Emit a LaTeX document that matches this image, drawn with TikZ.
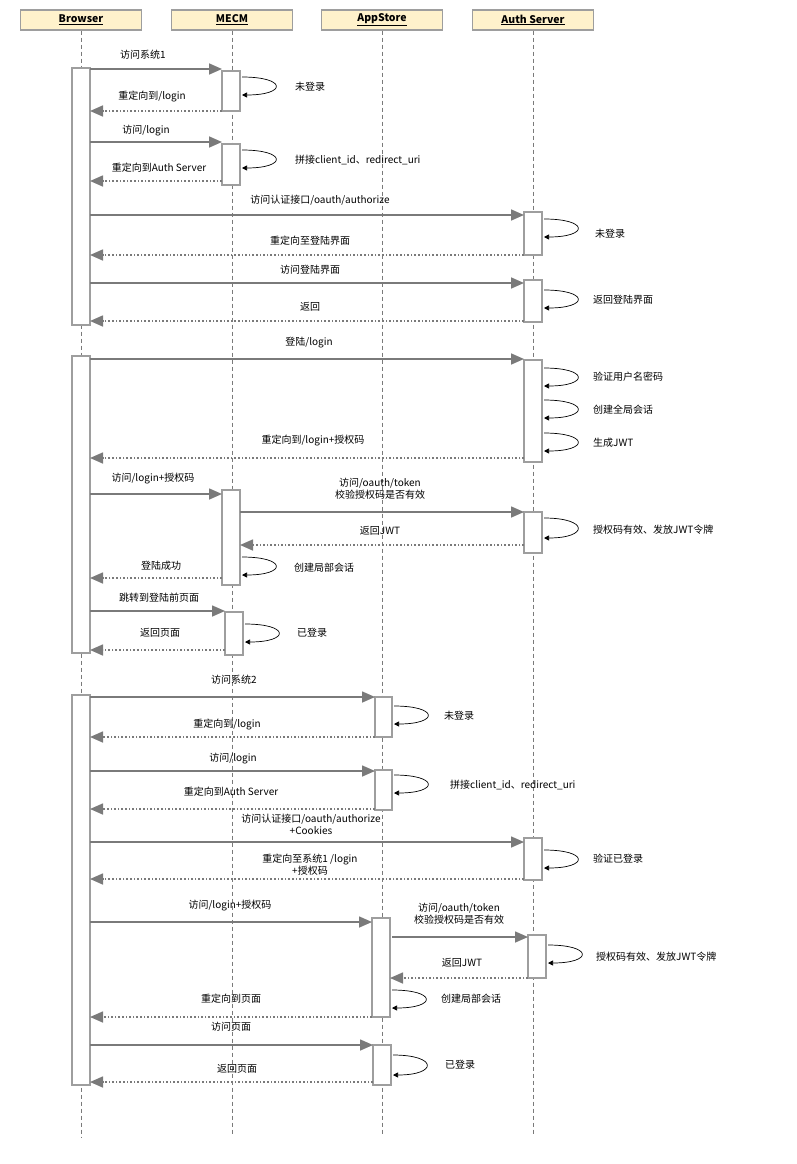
\documentclass[tikz,border=0pt]{standalone}
\usepackage{fontspec}
\setmainfont{Noto Sans CJK SC}
\usetikzlibrary{arrows.meta}
\definecolor{hdr}{HTML}{FFF2CC}
\definecolor{ln}{HTML}{7A7A7A}
\definecolor{bx}{HTML}{9E9E9E}
\tikzset{
  hd/.style={draw=bx,line width=1.4pt,fill=hdr,minimum width=121pt,minimum height=20pt,inner sep=0pt,font=\fontsize{10.5}{12}\selectfont\bfseries},
  life/.style={draw=ln,dashed,line width=0.9pt,dash pattern=on 4pt off 3pt},
  act/.style={draw=bx,line width=1.6pt,fill=white},
  req/.style={draw=ln,line width=1.6pt,-{Triangle[length=13pt,width=11pt]}},
  rsp/.style={draw=ln,line width=1.6pt,dotted,-{Triangle[length=13pt,width=11pt]}},
  selfl/.style={draw=black,line width=0.7pt,-{Triangle[length=5pt,width=5pt]}},
  lbl/.style={font=\fontsize{10}{12}\selectfont,align=center,inner sep=0pt}
}
\newcommand{\actbox}[5]{\draw[act] (#2,#3) rectangle (#4,#5) coordinate (#1);}
\newcommand{\msgR}[6]{\coordinate (a#1) at (#2,#4); \coordinate (b#1) at (#3,#4); \draw[req] (a#1) -- (b#1); \node[lbl] at (#5) {#6};}
\newcommand{\msgD}[6]{\coordinate (a#1) at (#2,#4); \coordinate (b#1) at (#3,#4); \draw[rsp] (a#1) -- (b#1); \node[lbl] at (#5) {#6};}
\newcommand{\selfloop}[6]{\coordinate (s#1) at (#2,#3); \coordinate (e#1) at (#2,#4); \draw[selfl] (s#1) .. controls ($(s#1)+(45,0)$) and ($(e#1)+(45,0)$) .. (e#1); \node[lbl,anchor=west] at (#5) {#6};}
\usetikzlibrary{calc}
\begin{document}
\begin{tikzpicture}[x=1pt,y=-1pt]
\useasboundingbox (0,0) rectangle (796,1164);
% headers and lifelines
\node[hd] (br) at (81,20) {\underline{Browser}};
\node[hd] (me) at (232,20) {\underline{MECM}};
\node[hd] (ap) at (382,20) {\underline{AppStore}};
\node[hd] (au) at (533,20) {\underline{Auth Server}};
\coordinate (brE) at (81,1138); \coordinate (meE) at (232,1134);
\coordinate (apE) at (382,1134); \coordinate (auE) at (533,1134);
\draw[life] (br.south) -- (brE);
\draw[life] (me.south) -- (meE);
\draw[life] (ap.south) -- (apE);
\draw[life] (au.south) -- (auE);
% activation boxes
\actbox{b1}{72}{68}{90}{325}
\actbox{b2}{72}{356}{90}{653}
\actbox{b3}{72}{695}{90}{1085}
\actbox{m1}{222}{71}{240}{111}
\actbox{m2}{222}{144}{240}{185}
\actbox{m3}{222}{490}{240}{585}
\actbox{m4}{225}{612}{243}{655}
\actbox{u1}{524}{212}{542}{255}
\actbox{u2}{524}{280}{542}{322}
\actbox{u3}{524}{360}{542}{462}
\actbox{u4}{524}{512}{542}{553}
\actbox{u5}{524}{838}{542}{880}
\actbox{u6}{528}{935}{546}{978}
\actbox{p1}{375}{697}{392}{737}
\actbox{p2}{375}{770}{392}{810}
\actbox{p3}{372}{918}{390}{1017}
\actbox{p4}{373}{1045}{391}{1085}
% messages
\msgR{1}{90}{222}{69}{143,55}{访问系统1}
\selfloop{1}{242}{77}{95}{295,87}{未登录}
\msgD{2}{222}{90}{111}{152,97}{重定向到/login}
\msgR{3}{90}{222}{142}{146,131}{访问/login}
\selfloop{2}{242}{150}{168}{295,160}{拼接client\_id、redirect\_uri}
\msgD{4}{222}{90}{181}{159,168}{重定向到Auth Server}
\msgR{5}{90}{524}{215}{320,200}{访问认证接口/oauth/authorize}
\selfloop{3}{544}{219}{237}{595,234}{未登录}
\msgD{6}{524}{90}{255}{310,241}{重定向至登陆界面}
\msgR{7}{90}{524}{283}{310,270}{访问登陆界面}
\selfloop{4}{544}{290}{308}{593,300}{返回登陆界面}
\msgD{8}{524}{90}{321}{310,307}{返回}
\msgR{9}{90}{524}{359}{309,343}{登陆/login}
\selfloop{5}{544}{368}{386}{593,377}{验证用户名密码}
\selfloop{6}{544}{400}{418}{593,410}{创建全局会话}
\selfloop{7}{544}{433}{451}{593,443}{生成JWT}
\msgD{10}{524}{90}{458}{313,441}{重定向到/login+授权码}
\msgR{11}{90}{222}{494}{153,479}{访问/login+授权码}
\msgR{12}{240}{524}{512}{380,489}{访问/oauth/token\\校验授权码是否有效}
\selfloop{8}{544}{518}{538}{593,530}{授权码有效、发放JWT令牌}
\msgD{13}{524}{240}{545}{380,531}{返回JWT}
\selfloop{9}{242}{557}{575}{294,568}{创建局部会话}
\msgD{14}{222}{90}{578}{161,566}{登陆成功}
\msgR{15}{90}{225}{611}{159,598}{跳转到登陆前页面}
\selfloop{10}{245}{624}{642}{297,633}{已登录}
\msgD{16}{225}{90}{650}{160,633}{返回页面}
\msgR{17}{90}{375}{697}{234,680}{访问系统2}
\selfloop{11}{394}{706}{724}{444,716}{未登录}
\msgD{18}{375}{90}{737}{227,725}{重定向到/login}
\msgR{19}{90}{375}{771}{233,759}{访问/login}
\selfloop{12}{394}{775}{793}{450,785}{拼接client\_id、redirect\_uri}
\msgD{20}{375}{90}{809}{231,792}{重定向到Auth Server}
\msgR{21}{90}{524}{842}{311,824}{访问认证接口/oauth/authorize\\+Cookies}
\selfloop{13}{544}{850}{868}{593,859}{验证已登录}
\msgD{22}{524}{90}{879}{310,865}{重定向至系统1 /login\\+授权码}
\msgR{23}{90}{372}{922}{230,906}{访问/login+授权码}
\msgR{24}{392}{528}{937}{459,914}{访问/oauth/token\\校验授权码是否有效}
\selfloop{14}{548}{945}{963}{596,957}{授权码有效、发放JWT令牌}
\msgD{25}{528}{390}{978}{462,963}{返回JWT}
\selfloop{15}{392}{990}{1008}{441,999}{创建局部会话}
\msgD{26}{372}{90}{1017}{231,999}{重定向到页面}
\msgR{27}{90}{373}{1045}{231,1027}{访问页面}
\selfloop{16}{393}{1055}{1075}{445,1065}{已登录}
\msgD{28}{373}{90}{1082}{237,1069}{返回页面}
\end{tikzpicture}
\end{document}
